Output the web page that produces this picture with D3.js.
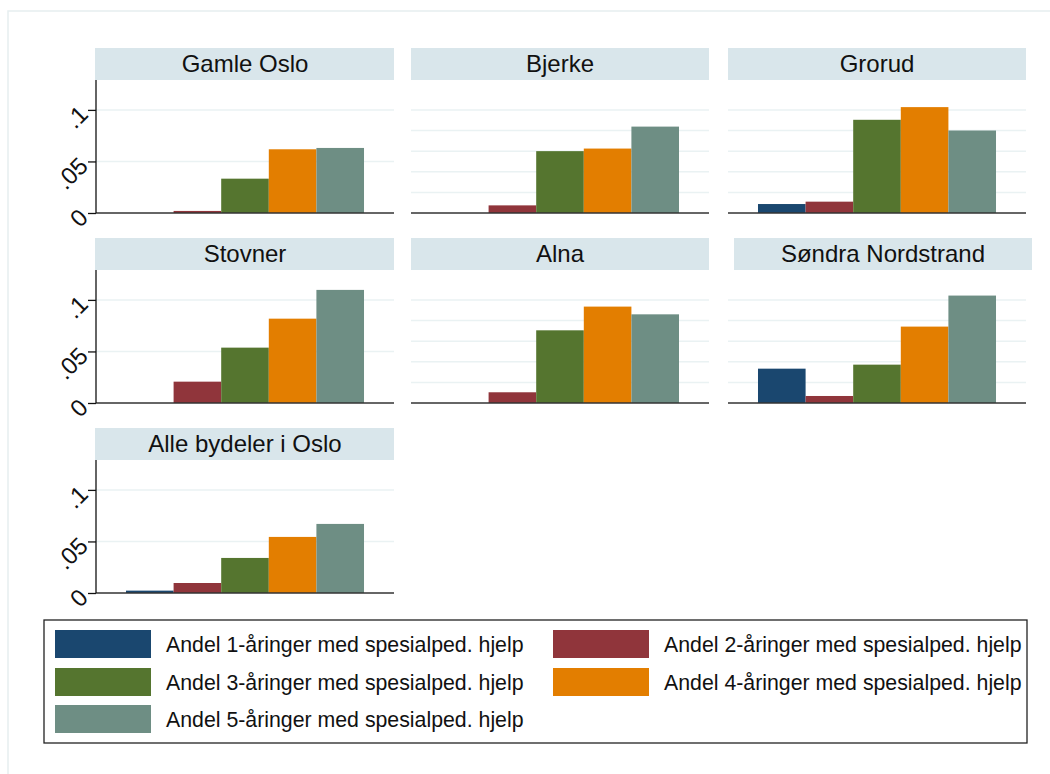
<!DOCTYPE html>
<html>
<head>
<meta charset="utf-8">
<script src="https://cdn.jsdelivr.net/npm/d3@7"></script>
<style>
  body { margin: 0; background: #fff; }
  svg { display: block; font-family: "Liberation Sans", Arial, sans-serif; }
</style>
</head>
<body>
<script>
// data
const districts = ["Gamle Oslo", "Bjerke", "Grorud", "Stovner", "Alna", "Søndra Nordstrand", "Alle bydeler i Oslo"]
const seriesNames = [
    "Andel 1-åringer med spesialped. hjelp",
    "Andel 2-åringer med spesialped. hjelp",
    "Andel 3-åringer med spesialped. hjelp",
    "Andel 4-åringer med spesialped. hjelp",
    "Andel 5-åringer med spesialped. hjelp"
]
const age1 = [0, 0, 0.0087, 0, 0, 0.0333, 0.0023]
const age2 = [0.002, 0.0074, 0.011, 0.0207, 0.0104, 0.0068, 0.0097]
const age3 = [0.0333, 0.060, 0.0904, 0.0537, 0.0705, 0.0372, 0.034]
const age4 = [0.0618, 0.0625, 0.1027, 0.0818, 0.0935, 0.0741, 0.0544]
const age5 = [0.0631, 0.0838, 0.080, 0.1097, 0.086, 0.1042, 0.067]
const seriesValues = [age1, age2, age3, age4, age5]
const colors = ["#1a476f", "#90353b", "#55752f", "#e37e00", "#6e8e84"]
const yTicksLabelled = [0, 0.05, 0.1]
const yTickLabels = ["0", ".05", ".1"]
const yGridOther = [0.02, 0.04, 0.06, 0.08, 0.1]

const width = 1050, height = 774
const colX = [96, 411, 728]
const rowBase = [213, 403, 593]
const plotW = 298, plotH = 133, headH = 32
const titleShift = { "Søndra Nordstrand": 6 }

const svg = d3.select("body").append("svg")
    .attr("width", width)
    .attr("height", height)

// outer frame (only top/left visible)
svg.append("rect")
    .attr("x", 8).attr("y", 11)
    .attr("width", 1100).attr("height", 800)
    .attr("fill", "none")
    .attr("stroke", "#e6eef0")
    .attr("stroke-width", 1.5)

const x = d3.scaleBand()
    .domain(d3.range(seriesNames.length))
    .range([0, plotW])
    .paddingInner(0)
    .paddingOuter(0.63)

const y = d3.scaleLinear()
    .domain([0, 0.129])
    .range([plotH, 0])

districts.forEach((name, i) => {
    const col = i % 3, row = Math.floor(i / 3)
    const g = svg.append("g")
        .attr("transform", `translate(${colX[col]},${rowBase[row] - plotH})`)

    // header strip
    const shift = titleShift[name] || 0
    g.append("rect")
        .attr("x", shift - (col === 0 ? 1 : 0))
        .attr("y", -headH)
        .attr("width", plotW + (col === 0 ? 1 : 0))
        .attr("height", headH)
        .attr("fill", "#d9e6eb")
    g.append("text")
        .attr("x", shift + plotW / 2)
        .attr("y", -8.5)
        .attr("text-anchor", "middle")
        .attr("font-size", 24)
        .attr("fill", "#111")
        .text(name)

    // gridlines
    const grid = col === 0 ? yTicksLabelled.filter(d => d > 0) : yGridOther
    g.selectAll(".grid")
        .data(grid)
        .enter()
        .append("line")
        .attr("x1", 0).attr("x2", plotW)
        .attr("y1", d => y(d)).attr("y2", d => y(d))
        .attr("stroke", "#eaf2f3")
        .attr("stroke-width", 1.5)

    // bars
    g.selectAll(".bar")
        .data(seriesValues.map((s, k) => ({ k, v: s[i] })))
        .enter()
        .append("rect")
        .attr("x", d => x(d.k))
        .attr("width", x.bandwidth())
        .attr("y", d => y(d.v))
        .attr("height", d => y(0) - y(d.v))
        .attr("fill", d => colors[d.k])

    // baseline
    g.append("line")
        .attr("x1", 0).attr("x2", plotW)
        .attr("y1", y(0)).attr("y2", y(0))
        .attr("stroke", "#333")
        .attr("stroke-width", 1.5)

    if (col === 0) {
        const axis = g.append("g")
            .call(d3.axisLeft(y)
                .tickValues(yTicksLabelled)
                .tickSize(8)
                .tickPadding(4)
                .tickFormat((d, j) => yTickLabels[j]))
        axis.select(".domain")
            .attr("d", `M0,0V${plotH}`)
            .attr("stroke", "#111")
            .attr("stroke-width", 1.3)
        axis.selectAll(".tick line").attr("stroke", "#111").attr("stroke-width", 1.3)
        axis.selectAll(".tick text")
            .attr("font-size", 24)
            .attr("font-family", "Liberation Sans, Arial, sans-serif")
            .attr("fill", "#111")
            .attr("x", null).attr("dy", null)
            .attr("dominant-baseline", "middle")
            .attr("transform", "translate(-11,1) rotate(-45)")
    }
})

// legend
const legend = svg.append("g").attr("id", "legend")
legend.append("rect")
    .attr("x", 44).attr("y", 620)
    .attr("width", 983).attr("height", 123)
    .attr("fill", "#fff")
    .attr("stroke", "#222")
    .attr("stroke-width", 1.3)

const legX = [55, 553], legY = [630, 668, 705]
seriesNames.forEach((name, k) => {
    const lx = legX[k % 2], ly = legY[Math.floor(k / 2)]
    legend.append("rect")
        .attr("x", lx).attr("y", ly)
        .attr("width", 96).attr("height", 28)
        .attr("fill", colors[k])
    legend.append("text")
        .attr("x", lx + 111)
        .attr("y", ly + 22)
        .attr("font-size", 21.3)
        .attr("fill", "#111")
        .text(name)
})
</script>
</body>
</html>
